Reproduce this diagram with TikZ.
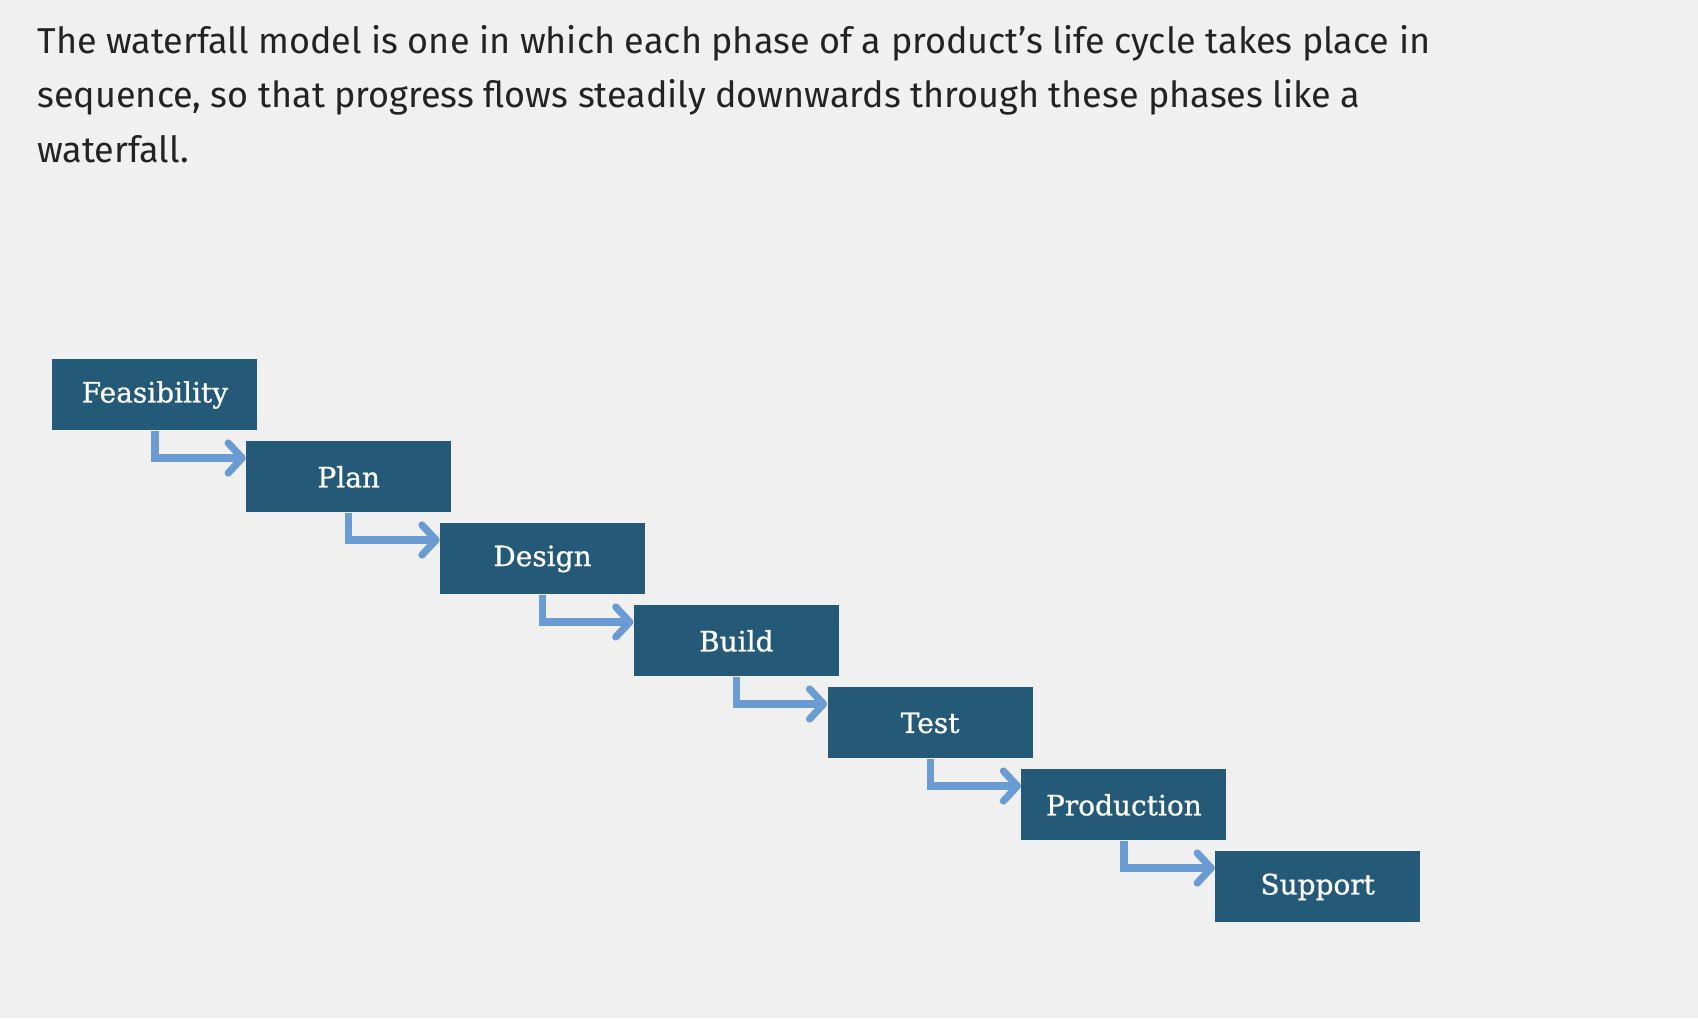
\documentclass[tikz,border=0pt]{standalone}
\usepackage{fontspec}
\setmainfont{Fira Sans}
\newfontfamily\slabfont[FakeBold=0.8]{DejaVu Serif}
\usepackage{xcolor}
\usetikzlibrary{arrows.meta,positioning}
\definecolor{fundo}{HTML}{F0F0F0}
\definecolor{fase}{HTML}{245A78}
\definecolor{seta}{HTML}{6A9BD2}
\definecolor{texto}{HTML}{232323}
\tikzset{
    etapa/.style={
        rectangle,
        fill=fase,
        text=white,
        inner sep=0pt,
        minimum width=102.5pt,
        minimum height=35.5pt,
        font=\slabfont\fontsize{14}{16}\selectfont
    },
    fluxo/.style={-{Straight Barb[length=7pt,width=15pt,round]}, seta, line width=3.6pt},
    paragrafo/.style={
        align=left,
        inner sep=0pt,
        text=texto,
        font=\fontsize{18}{27.25}\selectfont
    }
}

\begin{document}
\begin{tikzpicture}[
        x=0.5pt, y=-0.5pt,
        node distance=5.1pt and -6pt
    ]
        \fill[fundo] (0,0) rectangle (1698,1018);
        \useasboundingbox (0,0) rectangle (1698,1018);

        \node[paragrafo, anchor=north west] (intro) at (37,25) {The waterfall model is one in which each phase of a product’s life cycle takes place in\\sequence, so that progress flows steadily downwards through these phases like a\\waterfall.};

        \node[etapa, anchor=north west] (feas) at (52,359) {Feasibility};
        \node[etapa, below right=of feas] (plan) {Plan};
        \node[etapa, below right=of plan] (design) {Design};
        \node[etapa, below right=of design] (build) {Build};
        \node[etapa, below right=of build] (test) {Test};
        \node[etapa, below right=of test] (prod) {Production};
        \node[etapa, below right=of prod] (support) {Support};

        \draw[fluxo] (feas.south) |- ([yshift=-8.5pt]plan.north west);
        \draw[fluxo] (plan.south) |- ([yshift=-8.5pt]design.north west);
        \draw[fluxo] (design.south) |- ([yshift=-8.5pt]build.north west);
        \draw[fluxo] (build.south) |- ([yshift=-8.5pt]test.north west);
        \draw[fluxo] (test.south) |- ([yshift=-8.5pt]prod.north west);
        \draw[fluxo] (prod.south) |- ([yshift=-8.5pt]support.north west);
    \end{tikzpicture}
\end{document}
